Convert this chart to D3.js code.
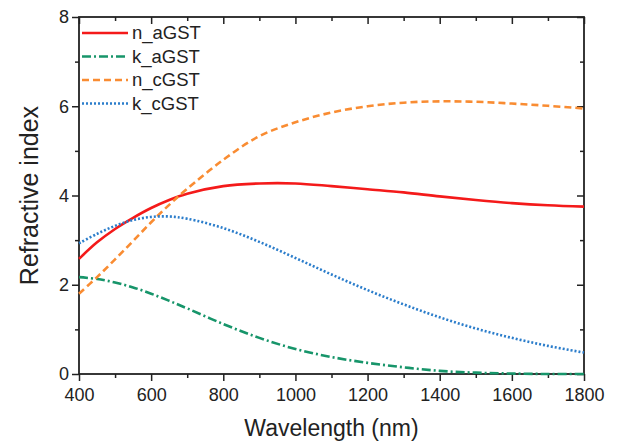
<!DOCTYPE html>
<html>
<head>
<meta charset="utf-8">
<script src="https://cdn.jsdelivr.net/npm/d3@7"></script>
<style>
  body { margin: 0; background: #fff; }
  svg { display: block; font-family: "Liberation Sans", Arial, sans-serif; }
</style>
</head>
<body>
<div id="chart"></div>
<script>
// Wavelength grid (nm) and optical constants
const wavelength = [400, 450, 500, 550, 600, 650, 700, 800, 900, 1000, 1100, 1200, 1300, 1400, 1500, 1600, 1700, 1800];
const nAGST = [2.58, 2.95, 3.25, 3.50, 3.72, 3.90, 4.04, 4.21, 4.27, 4.27, 4.21, 4.14, 4.07, 3.98, 3.90, 3.83, 3.78, 3.75];
const kAGST = [2.17, 2.13, 2.05, 1.94, 1.80, 1.64, 1.47, 1.12, 0.81, 0.56, 0.38, 0.25, 0.15, 0.07, 0.03, 0.01, 0.0, 0.0];
const nCGST = [1.80, 2.17, 2.57, 2.98, 3.40, 3.79, 4.15, 4.80, 5.33, 5.64, 5.86, 6.00, 6.08, 6.11, 6.10, 6.06, 6.01, 5.95];
const kCGST = [2.93, 3.14, 3.32, 3.45, 3.52, 3.53, 3.48, 3.27, 2.96, 2.60, 2.23, 1.88, 1.56, 1.27, 1.02, 0.81, 0.63, 0.48];

const seriesNames = ["n_aGST", "k_aGST", "n_cGST", "k_cGST"];
const xTicks = [400, 600, 800, 1000, 1200, 1400, 1600, 1800];
const yTicks = [0, 2, 4, 6, 8];

const width = 619, height = 442;
const margin = { top: 17, right: 35, bottom: 68, left: 79 };
const innerW = width - margin.left - margin.right;
const innerH = height - margin.top - margin.bottom;
const axisColor = "#222";

const styles = [
  { color: "#f41a1a", dash: null },
  { color: "#17956a", dash: "9,3,2,3" },
  { color: "#f98c32", dash: "7,4" },
  { color: "#2b7dcb", dash: "2,2" }
];
const values = [nAGST, kAGST, nCGST, kCGST];

const svg = d3.select("#chart").append("svg")
  .attr("width", width)
  .attr("height", height);

const g = svg.append("g").attr("transform", `translate(${margin.left},${margin.top})`);

const x = d3.scaleLinear().domain([400, 1800]).range([0, innerW]);
const y = d3.scaleLinear().domain([0, 8]).range([innerH, 0]);

// minor ticks every 100 nm / 1 unit
const xMinor = d3.range(500, 1800, 200);
const yMinor = [1, 3, 5, 7];

function styleAxis(sel) {
  sel.select(".domain").remove();
  sel.selectAll("line").attr("stroke", axisColor).attr("stroke-width", 1.5);
  sel.selectAll("text").attr("fill", axisColor).style("font-size", "18px");
}

// bottom and left: ticks outward
g.append("g").attr("transform", `translate(0,${innerH})`)
  .call(d3.axisBottom(x).tickValues(xTicks).tickSize(7).tickPadding(7).tickFormat(d3.format("d")))
  .call(styleAxis);
g.append("g").attr("transform", `translate(0,${innerH})`)
  .call(d3.axisBottom(x).tickValues(xMinor).tickSize(4).tickFormat(""))
  .call(styleAxis);
g.append("g")
  .call(d3.axisLeft(y).tickValues(yTicks).tickSize(7).tickPadding(3).tickFormat(d3.format("d")))
  .call(styleAxis);
g.append("g")
  .call(d3.axisLeft(y).tickValues(yMinor).tickSize(4).tickFormat(""))
  .call(styleAxis);

// top and right: mirrored ticks pointing in
g.append("g")
  .call(d3.axisTop(x).tickValues(xTicks).tickSize(-7).tickFormat(""))
  .call(styleAxis);
g.append("g")
  .call(d3.axisTop(x).tickValues(xMinor).tickSize(-4).tickFormat(""))
  .call(styleAxis);
g.append("g").attr("transform", `translate(${innerW},0)`)
  .call(d3.axisRight(y).tickValues(yTicks).tickSize(-7).tickFormat(""))
  .call(styleAxis);
g.append("g").attr("transform", `translate(${innerW},0)`)
  .call(d3.axisRight(y).tickValues(yMinor).tickSize(-4).tickFormat(""))
  .call(styleAxis);

// frame
g.append("rect")
  .attr("width", innerW).attr("height", innerH)
  .attr("fill", "none").attr("stroke", axisColor).attr("stroke-width", 1.8);

// curves
const line = d3.line()
  .x((d, i) => x(wavelength[i]))
  .y(d => y(d))
  .curve(d3.curveCatmullRom.alpha(0.5));

g.append("g").selectAll("path")
  .data(values)
  .enter()
  .append("path")
  .attr("d", line)
  .attr("fill", "none")
  .attr("stroke", (d, i) => styles[i].color)
  .attr("stroke-width", 2.6)
  .attr("stroke-dasharray", (d, i) => styles[i].dash);

// legend
const legend = g.append("g").attr("transform", "translate(3,16)");
seriesNames.forEach((name, i) => {
  const row = legend.append("g").attr("transform", `translate(0,${i * 23.5})`);
  row.append("line")
    .attr("x1", 0).attr("x2", 46)
    .attr("stroke", styles[i].color)
    .attr("stroke-width", 2.6)
    .attr("stroke-dasharray", styles[i].dash);
  row.append("text")
    .attr("x", 50).attr("dy", "0.35em")
    .attr("fill", axisColor)
    .style("font-size", "18.5px")
    .text(name);
});

// axis titles
svg.append("text")
  .attr("x", margin.left + innerW / 2)
  .attr("y", 436)
  .attr("text-anchor", "middle")
  .attr("fill", axisColor)
  .style("font-size", "23px")
  .text("Wavelength (nm)");

svg.append("text")
  .attr("transform", `translate(38,${margin.top + innerH / 2}) rotate(-90)`)
  .attr("text-anchor", "middle")
  .attr("fill", axisColor)
  .style("font-size", "25px")
  .text("Refractive index");
</script>
</body>
</html>
